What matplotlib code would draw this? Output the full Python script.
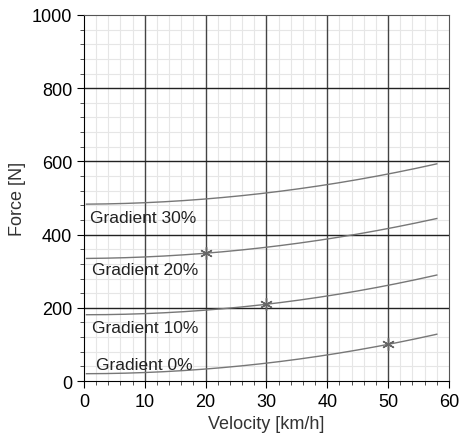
import numpy as np
import matplotlib
matplotlib.use("Agg")
import matplotlib.pyplot as plt
from matplotlib.ticker import MultipleLocator

plt.rcParams['font.family'] = ['Liberation Sans', 'DejaVu Sans']

# values
velocity = [0, 10, 20, 30, 40, 50, 58]
force_0 = [20, 23, 33, 49, 71, 100, 128]
force_10 = [181, 184, 194, 210, 232, 261, 290]
force_20 = [335, 338, 350, 366, 388, 415, 445]
force_30 = [483, 487, 497, 516, 536, 563, 595]

labels = ["Gradient 0%", "Gradient 10%", "Gradient 20%", "Gradient 30%"]
label_pos = [(2.0, 44), (1.3, 145), (1.3, 306), (1.0, 447)]

# marked points
mark_v = [50, 30, 20]
mark_f = [100, 210, 350]

fig = plt.figure(figsize=(4.6, 4.39), dpi=100)
ax = fig.add_axes([0.1826, 0.1298, 0.7934, 0.8338])

ax.xaxis.set_major_locator(MultipleLocator(10))
ax.xaxis.set_minor_locator(MultipleLocator(2))
ax.yaxis.set_major_locator(MultipleLocator(200))
ax.yaxis.set_minor_locator(MultipleLocator(40))
ax.grid(which='minor', color='#e6e6e6', lw=0.8)
ax.set_axisbelow(True)

# major grid drawn on top of the minor one
for v in range(10, 60, 10):
    ax.axvline(v, color='#444444', lw=1.0, zorder=1)
for f in range(200, 1000, 200):
    ax.axhline(f, color='#222222', lw=1.0, zorder=1)

vv = np.linspace(0.4, 58, 200)
for f in [force_0, force_10, force_20, force_30]:
    # smooth through the read points
    coef = np.polyfit(velocity, f, 2)
    ax.plot(vv, np.polyval(coef, vv), color='#777777', lw=1.0, zorder=2)

ax.plot(mark_v, mark_f, ls='none', marker=(6, 2, 0), ms=9, mew=1.0, color='#666666', zorder=3)

for t, (x, y) in zip(labels, label_pos):
    ax.text(x, y, t, fontsize=12.5, va='center', ha='left', color='#222222')

ax.set_xlim(0, 60)
ax.set_ylim(0, 1000)
ax.tick_params(which='major', direction='out', length=5, labelsize=13, colors='#000000')
ax.tick_params(which='minor', direction='out', length=3, color='#333333')
ax.set_xlabel("Velocity [km/h]", fontsize=13, color='#333333')
ax.set_ylabel("Force [N]", fontsize=13, color='#333333')
ax.spines['top'].set_color('#555555')
ax.spines['right'].set_color('#555555')

fig.savefig("out.png", dpi=100)
